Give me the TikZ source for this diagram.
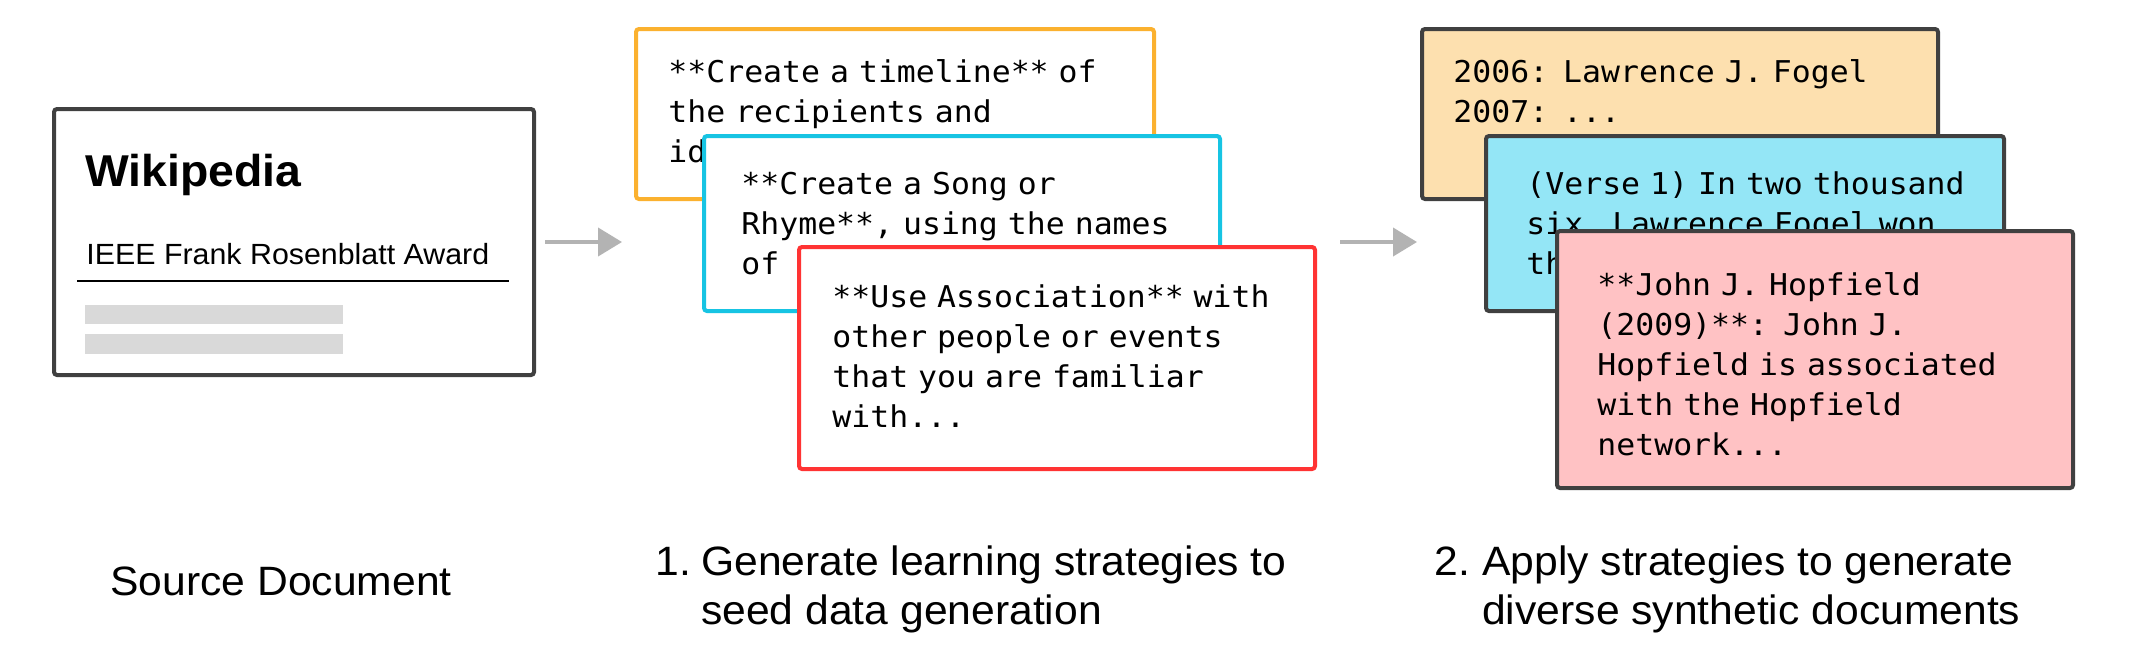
\documentclass[tikz,border=0pt]{standalone}
\usepackage{fontspec}
\setmainfont[FakeStretch=1.04]{Liberation Sans}
\newfontfamily\mono[FakeStretch=1.05]{DejaVu Sans Mono}
\usetikzlibrary{arrows.meta}
\definecolor{dark}{HTML}{404040}
\definecolor{yelline}{HTML}{FBB12F}
\definecolor{cyanline}{HTML}{17C4E3}
\definecolor{redline}{HTML}{FF3333}
\definecolor{yelfill}{HTML}{FDE0AF}
\definecolor{cyanfill}{HTML}{94E6F6}
\definecolor{pinkfill}{HTML}{FFC2C4}
\definecolor{barfill}{HTML}{D9D9D9}
\definecolor{arrowgray}{HTML}{B3B3B3}
\tikzset{
  box/.style={rectangle, rounded corners=1.5pt, line width=2pt, inner sep=0pt, outer sep=0pt, anchor=north west},
  monotext/.style={font=\mono\fontsize{15}{20}\selectfont, align=left, text width=255pt, anchor=base west, inner sep=0pt},
  caption/.style={font=\fontsize{20.5}{24.5}\selectfont, anchor=base west, inner sep=0pt},
  arr/.style={draw=arrowgray, line width=2pt, -{Triangle[length=12pt,width=14pt]}},
}
\begin{document}
\begin{tikzpicture}[x=0.5pt,y=-0.5pt]
\useasboundingbox[fill=white] (0,0) rectangle (2130,670);

% Source document
\node[box, draw=dark, fill=white, minimum width=240pt, minimum height=133pt] (src) at (54,109) {};
\node[font=\bfseries\fontsize{22.3}{26}\selectfont, anchor=base west, inner sep=0pt] (wiki) at (85,186) {Wikipedia};
\node[font=\fontsize{14.6}{18}\selectfont, anchor=base west, inner sep=0pt] (award) at (86,264) {IEEE Frank Rosenblatt Award};
\draw[line width=1.3pt] (77,281) -- (509,281);
\fill[barfill] (85,305) rectangle (343,324);
\fill[barfill] (85,334) rectangle (343,354);

% Strategies
\node[box, draw=yelline, fill=white, minimum width=259pt, minimum height=85pt] (yel) at (636,29) {};
\node[monotext] (yeltext) at (668,82) {**Create a timeline** of\\the recipients and\\id};
\node[box, draw=cyanline, fill=white, minimum width=258pt, minimum height=87.5pt] (blu) at (704,136) {};
\node[monotext] (blutext) at (741,194) {**Create a Song or\\Rhyme**, using the names\\of};
\node[box, draw=redline, fill=white, minimum width=258pt, minimum height=111pt] (red) at (799,247) {};
\node[monotext] (redtext) at (832,307) {**Use Association** with\\other people or events\\that you are familiar\\with...};

% Synthetic documents
\node[box, draw=dark, fill=yelfill, minimum width=258pt, minimum height=85pt] (docA) at (1422,29) {};
\node[monotext] (docAtext) at (1453,82) {2006: Lawrence J. Fogel\\2007: ...};
\node[box, draw=dark, fill=cyanfill, minimum width=259pt, minimum height=87.5pt] (docB) at (1486,136) {};
\node[monotext] (docBtext) at (1526,194) {(Verse 1) In two thousand\\six, Lawrence Fogel won\\th};
\node[box, draw=dark, fill=pinkfill, minimum width=258pt, minimum height=128.5pt] (docC) at (1557,231) {};
\node[monotext] (docCtext) at (1597,295) {**John J. Hopfield\\(2009)**: John J.\\Hopfield is associated\\with the Hopfield\\network...};

% Arrows
\draw[arr] ([xshift=5.5pt]src.east) -- ([xshift=-7pt]yel.west |- src.east);
\draw[arr] ([xshift=12.5pt]red.east |- src.east) -- ([xshift=-2.5pt]docA.west |- src.east);

% Captions
\node[caption] (cap0) at (110,595) {Source Document};
\node[caption] (cap1) at (655,575) {\begin{tabular}[t]{@{}l@{}l@{}}1.\kern0.25em& Generate learning strategies to\\ & seed data generation\end{tabular}};
\node[caption] (cap2) at (1434,575) {\begin{tabular}[t]{@{}l@{}l@{}}2.\kern0.3em& Apply strategies to generate\\ & diverse synthetic documents\end{tabular}};
\end{tikzpicture}
\end{document}
